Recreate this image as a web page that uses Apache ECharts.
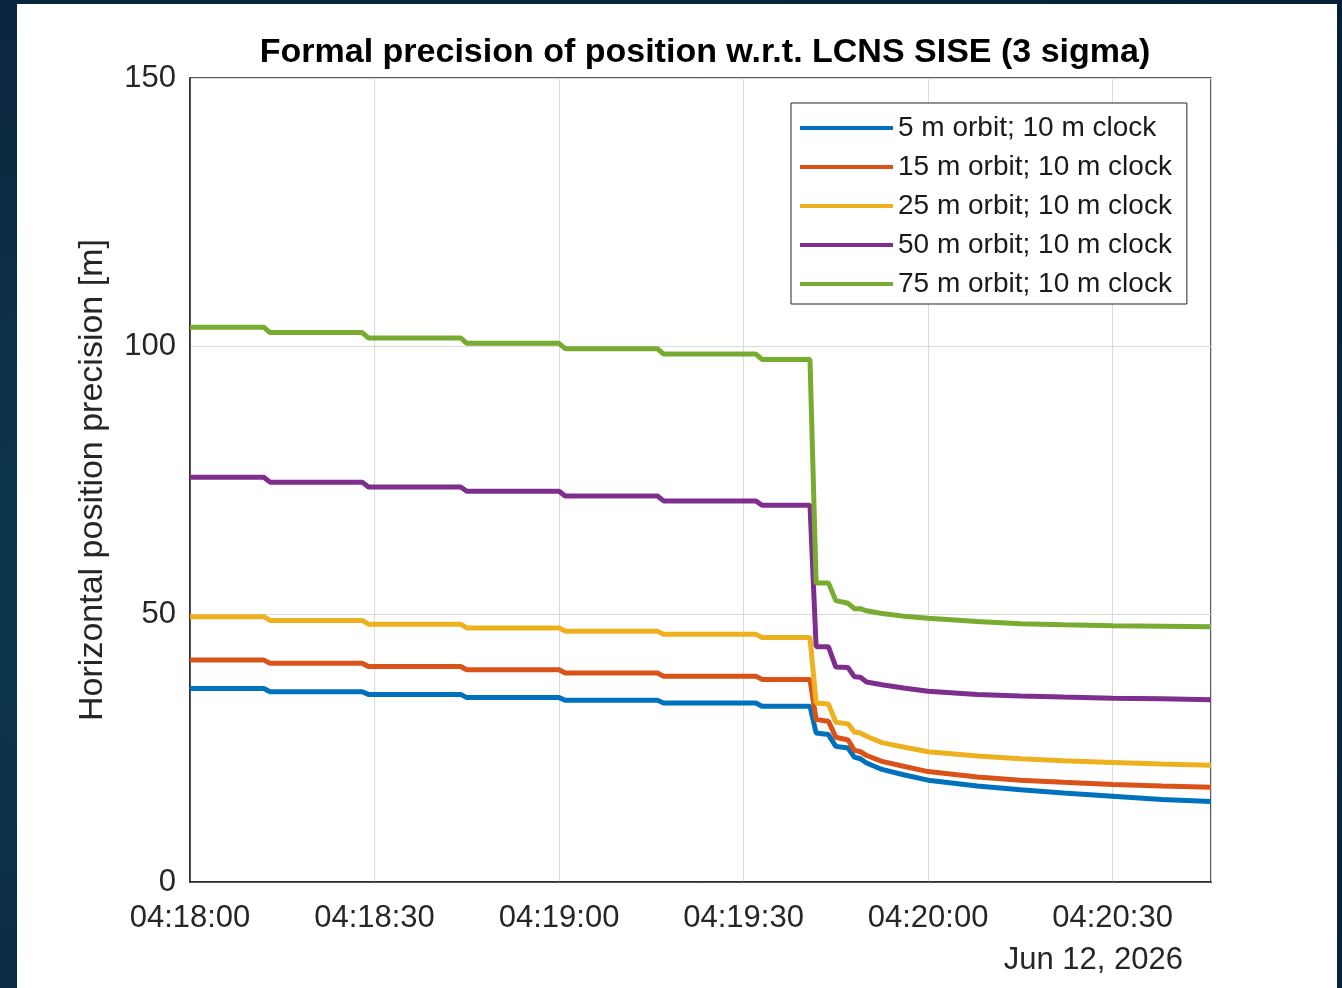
<!DOCTYPE html>
<html lang="en">
<head>
<meta charset="UTF-8">
<title>Formal precision of position</title>
<style>
    * { margin: 0; padding: 0; }
    body {
        width: 1342px;
        height: 988px;
        overflow: hidden;
        background: radial-gradient(ellipse at 20% 60%, #0f3a55 0%, #0a2a40 55%, #07203a 100%);
    }
    #panel {
        position: absolute;
        left: 17px;
        top: 4px;
        width: 1320px;
        height: 984px;
        background: #fff;
    }
</style>
</head>
<body>
<div id="panel"></div>
<script src="https://cdn.jsdelivr.net/npm/echarts@6/dist/echarts.min.js"></script>
<script>
    // seconds after 04:18:00
    var times = [0, 12, 13, 28, 29, 44, 45, 60, 61, 76, 77, 92, 93, 100.8,
        101.8, 103.8, 105, 107, 108, 109, 110, 112.5, 116, 120, 128, 135, 142, 150, 158, 166];

    var orbit5 = [36.1, 36.1, 35.5, 35.5, 35.0, 35.0, 34.4, 34.4, 33.9, 33.9, 33.4, 33.4, 32.8, 32.8,
        27.8, 27.5, 25.3, 25.0, 23.3, 23.0, 22.2, 21.0, 20.0, 19.0, 17.9, 17.2, 16.6, 16.0, 15.4, 15.0];
    var orbit15 = [41.4, 41.4, 40.8, 40.8, 40.2, 40.2, 39.6, 39.6, 39.0, 39.0, 38.4, 38.4, 37.8, 37.8,
        30.3, 30.0, 27.0, 26.5, 24.6, 24.3, 23.6, 22.5, 21.6, 20.6, 19.6, 19.0, 18.6, 18.2, 17.9, 17.7];
    var orbit25 = [49.5, 49.5, 48.8, 48.8, 48.1, 48.1, 47.4, 47.4, 46.8, 46.8, 46.2, 46.2, 45.6, 45.6,
        33.4, 33.2, 29.8, 29.5, 28.0, 27.8, 27.2, 26.0, 25.2, 24.3, 23.5, 23.0, 22.6, 22.3, 22.0, 21.8];
    var orbit50 = [75.5, 75.5, 74.6, 74.6, 73.7, 73.7, 72.9, 72.9, 72.0, 72.0, 71.1, 71.1, 70.3, 70.3,
        43.9, 43.9, 40.1, 40.0, 38.3, 38.2, 37.3, 36.8, 36.2, 35.6, 35.0, 34.7, 34.5, 34.3, 34.2, 34.0];
    var orbit75 = [103.5, 103.5, 102.5, 102.5, 101.5, 101.5, 100.5, 100.5, 99.5, 99.5, 98.5, 98.5, 97.5, 97.5,
        55.8, 55.8, 52.5, 52.0, 51.0, 51.0, 50.6, 50.1, 49.6, 49.2, 48.6, 48.2, 48.0, 47.8, 47.7, 47.6];

    var seriesNames = ['5 m orbit; 10 m clock', '15 m orbit; 10 m clock', '25 m orbit; 10 m clock',
        '50 m orbit; 10 m clock', '75 m orbit; 10 m clock'];
    var seriesValues = [orbit5, orbit15, orbit25, orbit50, orbit75];
    var colors = ['#0072BD', '#D95319', '#EDB120', '#7E2F8E', '#77AC30'];

    var xTicks = [0, 30, 60, 90, 120, 150];
    var xTickLabels = ['04:18:00', '04:18:30', '04:19:00', '04:19:30', '04:20:00', '04:20:30'];

    var font = '"Liberation Sans", Arial, Helvetica, sans-serif';
    var axisColor = '#262626';

    function toPairs(vals) {
        var out = [];
        for (var i = 0; i < times.length; i++) {
            out.push([times[i], vals[i]]);
        }
        return out;
    }

    var series = [];
    for (var k = 0; k < seriesNames.length; k++) {
        series.push({
            name: seriesNames[k],
            type: 'line',
            showSymbol: false,
            symbol: 'none',
            data: toPairs(seriesValues[k]),
            lineStyle: { width: 5, color: colors[k] },
            itemStyle: { color: colors[k] }
        });
    }

    var chart = echarts.init(document.getElementById('panel'));
    var option = {
        animation: false,
        color: colors,
        textStyle: { fontFamily: font },
        title: {
            text: 'Formal precision of position w.r.t. LCNS SISE (3 sigma)',
            left: 683,
            top: 27,
            textAlign: 'center',
            textStyle: { fontFamily: font, fontSize: 34, fontWeight: 'bold', color: '#000' }
        },
        // box around the plot like matlab "box on"
        grid: {
            left: 173, top: 74, width: 1021, height: 804,
            show: true, borderColor: axisColor, borderWidth: 1.5, backgroundColor: 'transparent'
        },
        legend: {
            orient: 'vertical',
            left: 774,
            top: 99,
            icon: 'rect',
            itemWidth: 93,
            itemHeight: 4,
            itemGap: 9,
            padding: [10, 15, 5, 9],
            backgroundColor: '#fff',
            borderColor: axisColor,
            borderWidth: 1,
            textStyle: { fontFamily: font, fontSize: 28, color: '#1a1a1a', lineHeight: 30 },
            data: seriesNames
        },
        xAxis: {
            type: 'value',
            min: 0,
            max: 166,
            interval: 30,
            axisLine: { show: true, lineStyle: { color: axisColor, width: 1.5 } },
            axisTick: { show: false },
            splitLine: { show: true, lineStyle: { color: '#dadada', width: 1 } },
            axisLabel: {
                fontFamily: font, fontSize: 31, color: axisColor, margin: 21,
                formatter: function (v) {
                    var i = xTicks.indexOf(v);
                    return i >= 0 ? xTickLabels[i] : '';
                }
            }
        },
        yAxis: {
            type: 'value',
            min: 0,
            max: 150,
            interval: 50,
            name: 'Horizontal position precision [m]',
            nameLocation: 'middle',
            nameGap: 80,
            nameTextStyle: { fontFamily: font, fontSize: 34, color: axisColor },
            axisLine: { show: true, lineStyle: { color: axisColor, width: 1.5 } },
            axisTick: { show: false },
            splitLine: { show: true, lineStyle: { color: '#dadada', width: 1 } },
            axisLabel: { fontFamily: font, fontSize: 31, color: axisColor, margin: 14 }
        },
        graphic: [{
            type: 'text',
            right: 1320 - 1166,
            top: 941,
            style: {
                text: 'Jun 12, 2026',
                font: '31px ' + font,
                fill: axisColor,
                textAlign: 'right'
            }
        }],
        series: series
    };
    chart.setOption(option);
</script>
</body>
</html>
